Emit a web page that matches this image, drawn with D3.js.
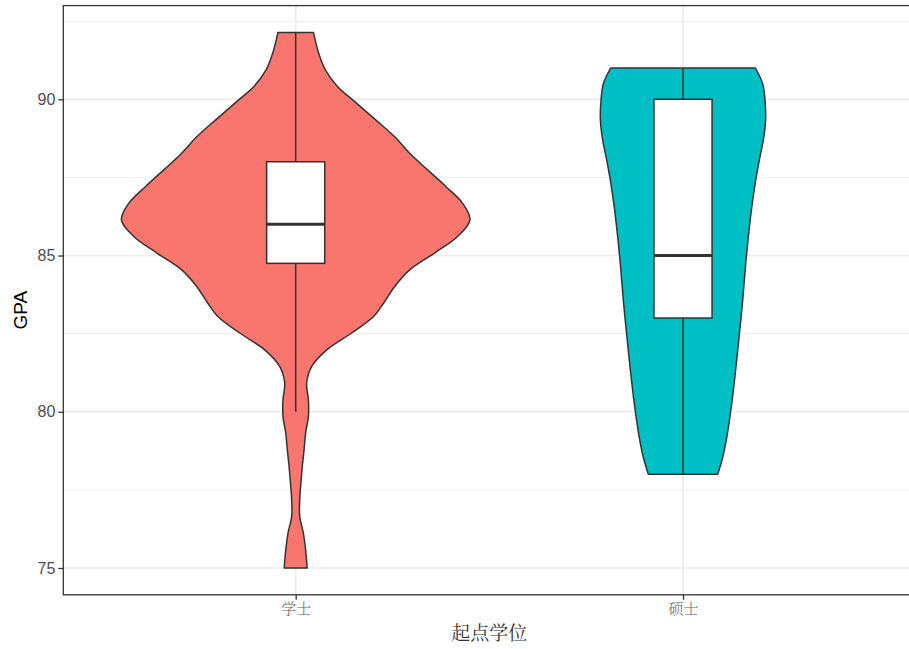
<!DOCTYPE html>
<html><head><meta charset="utf-8">
<script src="https://cdn.jsdelivr.net/npm/d3@7"></script>
<style>body{margin:0;background:#fff}svg{display:block}</style>
</head><body>
<script>
// ---- data ----
const categories = ["学士", "硕士"];
const fills = ["#F8766D", "#00BFC4"];
// violin outline: [GPA value, relative density width (1 = widest)]
const violinBachelor = [
  [92.14,0.102],[91.47,0.132],[90.94,0.170],[90.40,0.241],[89.98,0.327],[89.34,0.459],
  [88.80,0.568],[88.27,0.654],[87.74,0.757],[87.21,0.861],[86.67,0.958],[86.14,1.0],
  [85.61,0.929],[85.08,0.797],[84.54,0.654],[84.01,0.568],[83.48,0.505],[83.05,0.447],
  [82.52,0.321],[81.98,0.178],[81.45,0.092],[80.92,0.063],[80.38,0.073],[79.85,0.073],
  [79.32,0.057],[78.78,0.048],[78.25,0.038],[77.72,0.030],[77.18,0.023],[76.65,0.023],
  [76.12,0.044],[75.58,0.057],[75.0,0.066]
];
const violinMaster = [
  [91.0,0.415],[90.5,0.457],[90.0,0.470],[89.34,0.474],[88.70,0.461],[88.06,0.438],
  [87.31,0.414],[86.57,0.395],[85.71,0.377],[84.76,0.360],[83.48,0.341],[82.41,0.322],
  [81.34,0.302],[80.28,0.280],[79.21,0.252],[78.57,0.229],[78.0,0.199]
];
const violins = [violinBachelor, violinMaster];
// box stats: [lower whisker, q1, median, q3, upper whisker]
const boxStats = [
  [80, 84.75, 86, 88, 92.14],
  [78, 83, 85, 90, 91]
];
const yTicks = [75, 80, 85, 90];
const yMinor = [77.5, 82.5, 87.5, 92.5];
const yTitle = "GPA";
const xTitle = "起点学位";

// ---- layout ----
const W = 909, H = 649;
const panel = {left: 63.3, right: 915.4, top: 5.6, bottom: 594.8};
const svg = d3.select("body").append("svg").attr("width", W).attr("height", H);

const x = d3.scaleLinear().domain([0.4, 2.6]).range([panel.left, panel.right]);
const y = d3.scaleLinear().domain([74.143, 92.997]).range([panel.bottom, panel.top]);
const wScale = d3.scaleLinear().domain([0, 1]).range([0, x(1.45) - x(1)]);
const boxHalf = x(1.075) - x(1);

svg.append("defs").append("clipPath").attr("id","pc")
  .append("rect").attr("x", panel.left).attr("y", panel.top)
  .attr("width", panel.right - panel.left).attr("height", panel.bottom - panel.top);

const g = svg.append("g").attr("clip-path","url(#pc)");
// grid
g.selectAll(".minor").data(yMinor).enter().append("line")
  .attr("x1", panel.left).attr("x2", panel.right)
  .attr("y1", d => y(d)).attr("y2", d => y(d))
  .attr("stroke", "#EBEBEB").attr("stroke-width", 0.9);
g.selectAll(".major").data(yTicks).enter().append("line")
  .attr("x1", panel.left).attr("x2", panel.right)
  .attr("y1", d => y(d)).attr("y2", d => y(d))
  .attr("stroke", "#EBEBEB").attr("stroke-width", 1.7);
g.selectAll(".vmajor").data(categories).enter().append("line")
  .attr("x1", (d,i) => x(i+1)).attr("x2", (d,i) => x(i+1))
  .attr("y1", panel.top).attr("y2", panel.bottom)
  .attr("stroke", "#EBEBEB").attr("stroke-width", 1.7);

// violins
violins.forEach((vd, i) => {
  const cx = x(i + 1);
  const area = d3.area()
    .y(d => y(d[0]))
    .x0(d => cx - wScale(d[1]))
    .x1(d => cx + wScale(d[1]))
    .curve(d3.curveCatmullRom.alpha(0.5));
  g.append("path").datum(vd).attr("d", area)
    .attr("fill", fills[i]).attr("stroke", "#333333").attr("stroke-width", 1.5)
    .attr("stroke-linejoin", "round");
});

// boxes
boxStats.forEach((b, i) => {
  const cx = x(i + 1);
  const s = "#333333";
  g.append("line").attr("x1", cx).attr("x2", cx).attr("y1", y(b[0])).attr("y2", y(b[1]))
    .attr("stroke", s).attr("stroke-width", 1.5);
  g.append("line").attr("x1", cx).attr("x2", cx).attr("y1", y(b[3])).attr("y2", y(b[4]))
    .attr("stroke", s).attr("stroke-width", 1.5);
  g.append("rect").attr("x", cx - boxHalf).attr("width", 2 * boxHalf)
    .attr("y", y(b[3])).attr("height", y(b[1]) - y(b[3]))
    .attr("fill", "#fff").attr("stroke", s).attr("stroke-width", 1.5);
  g.append("line").attr("x1", cx - boxHalf).attr("x2", cx + boxHalf)
    .attr("y1", y(b[2])).attr("y2", y(b[2]))
    .attr("stroke", s).attr("stroke-width", 2.8);
});

// panel border
svg.append("rect").attr("x", panel.left).attr("y", panel.top)
  .attr("width", panel.right - panel.left).attr("height", panel.bottom - panel.top)
  .attr("fill", "none").attr("stroke", "#333333").attr("stroke-width", 1.3);

// y axis
const yAxis = d3.axisLeft(y).tickValues(yTicks).tickSize(5).tickPadding(3);
const ya = svg.append("g").attr("transform", `translate(${panel.left},0)`).call(yAxis);
ya.select(".domain").remove();
ya.selectAll(".tick line").attr("stroke", "#333333").attr("stroke-width", 1.3);
ya.selectAll(".tick text").attr("fill", "#4D4D4D")
  .style("font-family", "Liberation Sans, Arial, sans-serif").style("font-size", "16px");

// x axis
const xb = d3.scalePoint().domain(categories).range([x(1), x(2)]);
const xAxis = d3.axisBottom(xb).tickSize(5).tickPadding(4);
const xa = svg.append("g").attr("transform", `translate(0,${panel.bottom})`).call(xAxis);
xa.select(".domain").remove();
xa.selectAll(".tick line").attr("stroke", "#333333").attr("stroke-width", 1.3);
xa.selectAll(".tick text").attr("fill", "#666666")
  .style("font-family", "Noto Serif CJK SC, Noto Sans CJK SC, sans-serif").style("font-size", "15px")
  .style("font-weight", "300");

// titles
svg.append("text").attr("x", (panel.left + panel.right) / 2).attr("y", 640)
  .attr("text-anchor", "middle").attr("fill", "#333333")
  .style("font-family", "Noto Serif CJK SC, Noto Sans CJK SC, sans-serif").style("font-size", "19px")
  .text(xTitle);
svg.append("text").attr("transform", `translate(27,${(panel.top + panel.bottom) / 2 + 10}) rotate(-90)`)
  .attr("text-anchor", "middle").attr("fill", "#000")
  .style("font-family", "Liberation Sans, Arial, sans-serif").style("font-size", "19px")
  .text(yTitle);
</script>
</body></html>
